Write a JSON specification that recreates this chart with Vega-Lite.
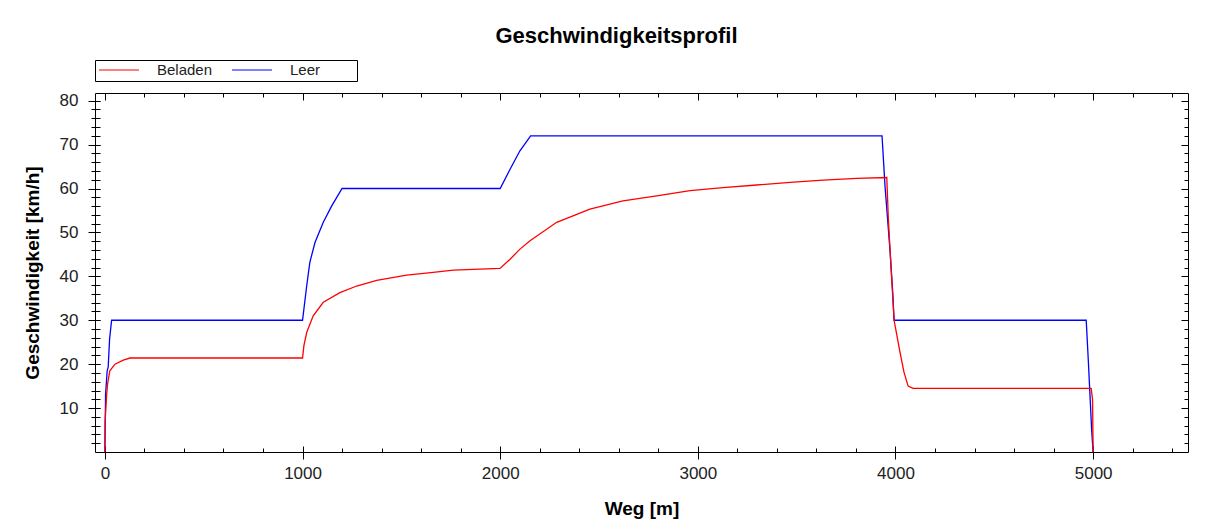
{
  "$schema": "https://vega.github.io/schema/vega-lite/v6.json",
  "width": 1093,
  "height": 359,
  "padding": {"left": 23, "top": 24, "right": 10, "bottom": 5},
  "background": "white",
  "config": {
    "view": {"stroke": "black", "strokeWidth": 1},
    "font": "Liberation Sans",
    "axis": {
      "domain": false,
      "grid": false,
      "tickColor": "black",
      "tickWidth": 1,
      "labelColor": "#222222",
      "labelFont": "Liberation Sans",
      "labelFontSize": 17,
      "titleFont": "Liberation Sans",
      "titleFontSize": 19,
      "titleFontWeight": "bold",
      "titleColor": "black"
    }
  },
  "title": {
    "text": "Geschwindigkeitsprofil",
    "font": "Liberation Sans",
    "fontSize": 22,
    "fontWeight": "bold",
    "color": "black",
    "anchor": "middle",
    "dx": -25,
    "offset": 12
  },
  "data": {
    "values": [
      {"serie": "Leer", "weg": 0, "kmh": 0},
      {"serie": "Leer", "weg": 3.5, "kmh": 13.2},
      {"serie": "Leer", "weg": 11.6, "kmh": 18.5},
      {"serie": "Leer", "weg": 16.7, "kmh": 19.3},
      {"serie": "Leer", "weg": 23.8, "kmh": 25.7},
      {"serie": "Leer", "weg": 34, "kmh": 30},
      {"serie": "Leer", "weg": 1000, "kmh": 30},
      {"serie": "Leer", "weg": 1021, "kmh": 37.8},
      {"serie": "Leer", "weg": 1037, "kmh": 43.2},
      {"serie": "Leer", "weg": 1063, "kmh": 47.7},
      {"serie": "Leer", "weg": 1105, "kmh": 52.3},
      {"serie": "Leer", "weg": 1147, "kmh": 56.0},
      {"serie": "Leer", "weg": 1200, "kmh": 60},
      {"serie": "Leer", "weg": 2000, "kmh": 60},
      {"serie": "Leer", "weg": 2050, "kmh": 64.4},
      {"serie": "Leer", "weg": 2100, "kmh": 68.6},
      {"serie": "Leer", "weg": 2154, "kmh": 72},
      {"serie": "Leer", "weg": 3932, "kmh": 72},
      {"serie": "Leer", "weg": 3947, "kmh": 60.6},
      {"serie": "Leer", "weg": 3973, "kmh": 45.5},
      {"serie": "Leer", "weg": 3986, "kmh": 36.4},
      {"serie": "Leer", "weg": 3993, "kmh": 30},
      {"serie": "Leer", "weg": 4965, "kmh": 30},
      {"serie": "Leer", "weg": 4976, "kmh": 20.5},
      {"serie": "Leer", "weg": 4985, "kmh": 12.1},
      {"serie": "Leer", "weg": 4993, "kmh": 4.6},
      {"serie": "Leer", "weg": 5000, "kmh": 0},
      {"serie": "Beladen", "weg": 0, "kmh": 0},
      {"serie": "Beladen", "weg": 1, "kmh": 6.8},
      {"serie": "Beladen", "weg": 8.6, "kmh": 12.8},
      {"serie": "Beladen", "weg": 13.7, "kmh": 15.5},
      {"serie": "Beladen", "weg": 25, "kmh": 18.5},
      {"serie": "Beladen", "weg": 51, "kmh": 20.0},
      {"serie": "Beladen", "weg": 93, "kmh": 20.9},
      {"serie": "Beladen", "weg": 127, "kmh": 21.4},
      {"serie": "Beladen", "weg": 1000, "kmh": 21.4},
      {"serie": "Beladen", "weg": 1007, "kmh": 24.2},
      {"serie": "Beladen", "weg": 1021, "kmh": 27.2},
      {"serie": "Beladen", "weg": 1054, "kmh": 31.0},
      {"serie": "Beladen", "weg": 1105, "kmh": 34.1},
      {"serie": "Beladen", "weg": 1189, "kmh": 36.3},
      {"serie": "Beladen", "weg": 1274, "kmh": 37.8},
      {"serie": "Beladen", "weg": 1375, "kmh": 39.1},
      {"serie": "Beladen", "weg": 1527, "kmh": 40.3},
      {"serie": "Beladen", "weg": 1661, "kmh": 40.9},
      {"serie": "Beladen", "weg": 1763, "kmh": 41.4},
      {"serie": "Beladen", "weg": 1999, "kmh": 41.8},
      {"serie": "Beladen", "weg": 2050, "kmh": 43.9},
      {"serie": "Beladen", "weg": 2100, "kmh": 46.2},
      {"serie": "Beladen", "weg": 2151, "kmh": 48.1},
      {"serie": "Beladen", "weg": 2286, "kmh": 52.3},
      {"serie": "Beladen", "weg": 2454, "kmh": 55.3},
      {"serie": "Beladen", "weg": 2621, "kmh": 57.2},
      {"serie": "Beladen", "weg": 2792, "kmh": 58.3},
      {"serie": "Beladen", "weg": 2961, "kmh": 59.5},
      {"serie": "Beladen", "weg": 3127, "kmh": 60.2},
      {"serie": "Beladen", "weg": 3298, "kmh": 60.8},
      {"serie": "Beladen", "weg": 3467, "kmh": 61.4},
      {"serie": "Beladen", "weg": 3634, "kmh": 61.9},
      {"serie": "Beladen", "weg": 3804, "kmh": 62.3},
      {"serie": "Beladen", "weg": 3956, "kmh": 62.5},
      {"serie": "Beladen", "weg": 3964, "kmh": 53},
      {"serie": "Beladen", "weg": 3978, "kmh": 41.6},
      {"serie": "Beladen", "weg": 3993, "kmh": 30},
      {"serie": "Beladen", "weg": 4023, "kmh": 22.7},
      {"serie": "Beladen", "weg": 4043, "kmh": 18.2},
      {"serie": "Beladen", "weg": 4064, "kmh": 15.0},
      {"serie": "Beladen", "weg": 4089, "kmh": 14.5},
      {"serie": "Beladen", "weg": 4990, "kmh": 14.5},
      {"serie": "Beladen", "weg": 4997, "kmh": 12},
      {"serie": "Beladen", "weg": 5000, "kmh": 0}
    ]
  },
  "layer": [
    {
      "mark": {"type": "line", "strokeWidth": 1.3},
      "encoding": {
        "x": {
          "field": "weg", "type": "quantitative",
          "scale": {"domain": [-50, 5480], "nice": false, "zero": false},
          "axis": {"orient": "bottom", "values": [0, 1000, 2000, 3000, 4000, 5000], "format": "d", "tickSize": 13, "offset": -6, "labelPadding": 6, "title": "Weg [m]", "titlePadding": 18}
        },
        "y": {
          "field": "kmh", "type": "quantitative",
          "scale": {"domain": [0, 81.75], "nice": false, "zero": false},
          "axis": {"orient": "left", "values": [10, 20, 30, 40, 50, 60, 70, 80], "tickSize": 12, "offset": -5, "labelPadding": 10, "title": "Geschwindigkeit [km/h]", "titlePadding": 17}
        },
        "color": {
          "field": "serie", "type": "nominal",
          "scale": {"domain": ["Beladen", "Leer"], "range": ["#ff0000", "#0000ff"]},
          "legend": {
            "orient": "top", "direction": "horizontal", "title": null,
            "strokeColor": "black", "fillColor": "white", "padding": 3, "offset": 11,
            "symbolType": "stroke", "symbolSize": 1600, "symbolStrokeWidth": 1.2,
            "clipHeight": 14, "labelFont": "Liberation Sans", "labelFontSize": 15, "labelColor": "#222222",
            "labelOffset": 17, "columnPadding": 18, "gridAlign": "each",
            "labelExpr": "datum.label == 'Leer' ? 'Leer\u2800\u2800\u2800' : datum.label"
          }
        }
      }
    },
    {
      "mark": {"type": "point", "opacity": 0},
      "encoding": {
        "x": {"field": "weg", "type": "quantitative", "scale": {"domain": [-50, 5480], "nice": false, "zero": false},
          "axis": {"orient": "bottom", "values": [0, 200, 400, 600, 800, 1000, 1200, 1400, 1600, 1800, 2000, 2200, 2400, 2600, 2800, 3000, 3200, 3400, 3600, 3800, 4000, 4200, 4400, 4600, 4800, 5000, 5200, 5400], "tickSize": -4, "labels": false, "title": null}},
        "y": {"field": "kmh", "type": "quantitative", "scale": {"domain": [0, 81.75], "nice": false, "zero": false},
          "axis": {"orient": "left", "values": [2, 4, 6, 8, 10, 12, 14, 16, 18, 20, 22, 24, 26, 28, 30, 32, 34, 36, 38, 40, 42, 44, 46, 48, 50, 52, 54, 56, 58, 60, 62, 64, 66, 68, 70, 72, 74, 76, 78, 80], "tickSize": 9, "offset": -5, "labels": false, "title": null}}
      }
    },
    {
      "mark": {"type": "point", "opacity": 0},
      "encoding": {
        "x": {"field": "weg", "type": "quantitative", "scale": {"domain": [-50, 5480], "nice": false, "zero": false},
          "axis": {"orient": "top", "values": [0, 1000, 2000, 3000, 4000, 5000], "tickSize": -7, "labels": false, "title": null}},
        "y": {"field": "kmh", "type": "quantitative", "scale": {"domain": [0, 81.75], "nice": false, "zero": false},
          "axis": {"orient": "right", "values": [10, 20, 30, 40, 50, 60, 70, 80], "tickSize": -7, "labels": false, "title": null}}
      }
    },
    {
      "mark": {"type": "point", "opacity": 0},
      "encoding": {
        "x": {"field": "weg", "type": "quantitative", "scale": {"domain": [-50, 5480], "nice": false, "zero": false},
          "axis": {"orient": "top", "values": [0, 200, 400, 600, 800, 1000, 1200, 1400, 1600, 1800, 2000, 2200, 2400, 2600, 2800, 3000, 3200, 3400, 3600, 3800, 4000, 4200, 4400, 4600, 4800, 5000, 5200, 5400], "tickSize": -4, "labels": false, "title": null}},
        "y": {"field": "kmh", "type": "quantitative", "scale": {"domain": [0, 81.75], "nice": false, "zero": false},
          "axis": {"orient": "right", "values": [2, 4, 6, 8, 10, 12, 14, 16, 18, 20, 22, 24, 26, 28, 30, 32, 34, 36, 38, 40, 42, 44, 46, 48, 50, 52, 54, 56, 58, 60, 62, 64, 66, 68, 70, 72, 74, 76, 78, 80], "tickSize": -4, "labels": false, "title": null}}
      }
    }
  ],
  "resolve": {"axis": {"x": "independent", "y": "independent"}}
}
